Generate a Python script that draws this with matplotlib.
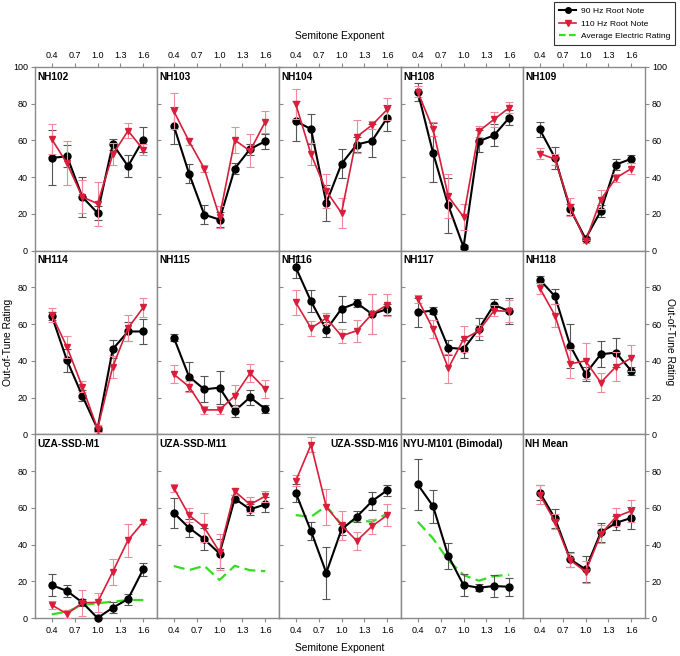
import matplotlib
matplotlib.use("Agg")
import matplotlib.pyplot as plt
from matplotlib.lines import Line2D

plt.rcParams['font.family'] = ['Liberation Sans', 'DejaVu Sans']

# semitone exponents tested and the tick labels shown
exponents = [0.4, 0.6, 0.8, 1.0, 1.2, 1.4, 1.6]
x_ticks = [0.4, 0.7, 1.0, 1.3, 1.6]

panels = ["NH102", "NH103", "NH104", "NH108", "NH109",
          "NH114", "NH115", "NH116", "NH117", "NH118",
          "UZA-SSD-M1", "UZA-SSD-M11", "UZA-SSD-M16", "NYU-M101 (Bimodal)", "NH Mean"]

# 90 Hz root note: mean out-of-tune rating and error
rating_90 = [
    [50.5, 51.4, 29.3, 20.5, 58.0, 46.0, 60.5],
    [68.0, 42.0, 19.6, 16.9, 44.7, 55.3, 59.6],
    [70.5, 66.2, 26.0, 47.3, 57.8, 59.8, 72.4],
    [86.5, 53.3, 24.7, 2.0, 59.6, 62.8, 72.4],
    [66.0, 50.5, 22.5, 6.5, 21.6, 46.9, 50.0],
    [64.5, 40.2, 21.0, 3.0, 46.4, 56.0, 56.0],
    [52.7, 31.4, 24.5, 25.4, 12.7, 20.2, 13.8],
    [90.9, 72.4, 56.9, 68.4, 71.5, 65.5, 68.2],
    [66.4, 67.4, 47.2, 46.4, 57.4, 70.5, 67.0],
    [84.2, 75.1, 48.2, 32.9, 43.6, 44.5, 34.5],
    [17.9, 14.7, 8.5, 0.0, 5.6, 10.3, 26.6],
    [57.2, 49.1, 42.9, 35.1, 65.0, 59.2, 61.8],
    [68.1, 47.3, 24.6, 48.2, 55.1, 63.6, 69.6],
    [72.7, 60.9, 33.9, 17.9, 16.5, 17.4, 17.0],
    [68.3, 54.2, 31.9, 26.5, 46.6, 51.8, 54.5],
]
err_90 = [
    [15, 6, 11, 4, 3, 6, 7],
    [10, 5, 5, 4, 3, 3, 4],
    [11, 8, 10, 8, 4, 9, 7],
    [5, 16, 15, 1, 6, 6, 4],
    [4, 6, 3, 1, 3, 3, 2],
    [2, 6, 3, 1, 5, 5, 7],
    [2, 8, 7, 9, 3, 4, 2],
    [6, 6, 4, 7, 2, 11, 3],
    [8, 2, 4, 5, 6, 3, 7],
    [2, 4, 12, 4, 7, 8, 2],
    [6, 3.5, 2, 0, 3, 3, 3.5],
    [8, 5, 6, 8, 2, 3, 4],
    [5, 5, 14, 3, 3, 5, 3],
    [14, 9, 7, 6, 2, 6, 5],
    [4, 5, 4, 7, 5, 4, 6],
]

# 110 Hz root note (not run for NYU-M101)
rating_110 = [
    [60.7, 47.5, 29.3, 25.6, 52.4, 65.3, 55.0],
    [76.0, 59.6, 44.7, 18.4, 60.2, 54.3, 70.2],
    [79.8, 52.5, 32.5, 20.5, 62.0, 68.4, 76.9],
    [86.5, 66.2, 29.6, 18.4, 65.0, 71.5, 77.8],
    [52.9, 49.8, 23.8, 5.0, 27.8, 39.6, 44.7],
    [65.0, 47.5, 26.0, 3.0, 36.9, 57.8, 69.1],
    [32.7, 26.0, 13.3, 13.3, 21.0, 33.3, 24.7],
    [71.8, 57.8, 63.3, 53.6, 56.4, 65.5, 70.5],
    [73.6, 57.4, 36.0, 51.8, 56.4, 67.3, 67.0],
    [79.6, 64.7, 38.4, 40.0, 28.2, 36.9, 41.5],
    [7.1, 2.2, 8.3, 8.5, 25.2, 42.4, 52.3],
    [70.8, 56.0, 49.3, 36.0, 69.0, 61.8, 66.3],
    [74.6, 94.4, 60.5, 50.5, 42.0, 50.0, 56.0],
    None,
    [67.2, 52.4, 31.5, 25.2, 45.6, 55.1, 58.3],
]
err_110 = [
    [8, 12, 9, 12, 6, 4, 3],
    [10, 2, 2, 6, 7, 9, 6],
    [8, 6, 9, 8, 9, 2, 6],
    [3, 4, 12, 7, 3, 4, 3],
    [3, 3, 5, 1, 5, 2, 3],
    [4, 6, 3, 2, 6, 7, 5],
    [5, 3, 2, 2, 6, 5, 5],
    [7, 4, 3, 4, 6, 11, 6],
    [2, 5, 8, 7, 3, 3, 6],
    [3, 6, 8, 10, 5, 8, 7],
    [2, 2, 7, 5, 7, 9, 1],
    [2, 4, 8, 10, 2, 4, 3],
    [3, 4, 10, 8, 5, 4, 6],
    None,
    [5, 4, 4, 6, 5, 5, 6],
]

# average electric rating (CI listeners only)
electric = [None] * 10 + [
    [2.0, 3.4, 7.1, 8.0, 8.9, 9.8, 9.8],
    [28.3, 26.1, 28.4, 20.7, 28.4, 26.0, 25.5],
    [56.0, 55.1, 61.0, 50.9, 53.3, 52.4, 56.9],
    [52.4, 43.3, 31.5, 23.4, 20.3, 22.8, 23.5],
    None,
]

black = '#000000'
red = '#d81e3a'
green = '#33dd22'
spine_col = '#8a8a8a'

fig = plt.figure(figsize=(6.8, 6.56), dpi=100)
gs = fig.add_gridspec(3, 5, left=35/680, right=645/680,
                      top=1 - 67/656, bottom=1 - 618/656,
                      wspace=0, hspace=0)

for i, name in enumerate(panels):
    r, c = divmod(i, 5)
    ax = fig.add_subplot(gs[r, c])

    if electric[i] is not None:
        ax.plot(exponents, electric[i], color=green, lw=1.6,
                dashes=(5, 2.5), zorder=2, clip_on=False)

    ax.errorbar(exponents, rating_90[i], yerr=err_90[i], fmt='none',
                ecolor='#555555', elinewidth=0.8, capsize=2.8,
                capthick=0.8, zorder=3)
    ax.plot(exponents, rating_90[i], color=black, lw=1.5, marker='o',
            ms=5, zorder=4, clip_on=False)

    if rating_110[i] is not None:
        ax.errorbar(exponents, rating_110[i], yerr=err_110[i], fmt='none',
                    ecolor='#f08a9a', elinewidth=0.8, capsize=2.8,
                    capthick=0.8, zorder=5)
        ax.plot(exponents, rating_110[i], color=red, lw=1.2, marker='v',
                ms=5, zorder=6, clip_on=False)

    ax.set_xlim(0.18, 1.78)
    ax.set_ylim(0, 100)

    for sp in ax.spines.values():
        sp.set_color(spine_col)
        sp.set_linewidth(1.0)

    # title inside the panel
    if name == "UZA-SSD-M16":
        ax.text(0.98, 0.975, name, transform=ax.transAxes, ha='right',
                va='top', fontsize=7.3, fontweight='bold')
    else:
        ax.text(0.02, 0.975, name, transform=ax.transAxes, ha='left',
                va='top', fontsize=7.3, fontweight='bold')

    # x ticks only on the outer rows
    ax.set_xticks(x_ticks)
    ax.set_xticklabels([f"{v:.1f}" for v in x_ticks])
    if r == 0:
        ax.tick_params(axis='x', top=True, bottom=False, labeltop=True,
                       labelbottom=False, direction='out', length=3,
                       color=spine_col, labelsize=6.5, pad=2)
    elif r == 2:
        ax.tick_params(axis='x', top=False, bottom=True, labelbottom=True,
                       direction='out', length=3, color=spine_col,
                       labelsize=6.5, pad=3)
    else:
        ax.tick_params(axis='x', top=False, bottom=False,
                       labelbottom=False)

    # y ticks
    if r == 0:
        ax.set_yticks([0, 20, 40, 60, 80, 100])
    else:
        ax.set_yticks([0, 20, 40, 60, 80])
    if c == 0:
        ax.tick_params(axis='y', left=True, labelleft=True, direction='out',
                       length=3, color=spine_col, labelsize=6.5, pad=2)
    elif c == 4:
        ax.tick_params(axis='y', left=False, labelleft=False, right=True,
                       labelright=True, direction='out', length=3,
                       color=spine_col, labelsize=6.5, pad=2)
    else:
        ax.tick_params(axis='y', left=True, labelleft=False, direction='in',
                       length=3, color=spine_col)

fig.text(340/680, 1 - 36/656, "Semitone Exponent", ha='center',
         va='center', fontsize=7.4)
fig.text(340/680, 1 - 648/656, "Semitone Exponent", ha='center',
         va='center', fontsize=7.4)
fig.text(8/680, 1 - 342/656, "Out-of-Tune Rating", ha='center',
         va='center', rotation=90, fontsize=7.4)
fig.text(670/680, 1 - 342/656, "Out-of-Tune Rating", ha='center',
         va='center', rotation=270, fontsize=7.4)

handles = [
    Line2D([], [], color=black, lw=1.5, marker='o', ms=4),
    Line2D([], [], color=red, lw=1.2, marker='v', ms=4),
    Line2D([], [], color=green, lw=1.6, dashes=(3, 1.5)),
]
labels = ["90 Hz Root Note", "110 Hz Root Note", "Average Electric Rating"]
leg = fig.legend(handles, labels, loc='upper right',
                 bbox_to_anchor=(675/680, 1 - 2/656), fontsize=6.1,
                 frameon=True, fancybox=False, edgecolor='black',
                 handlelength=2.0, handletextpad=0.5, borderpad=0.6,
                 labelspacing=0.55, borderaxespad=0)
leg.get_frame().set_linewidth(0.8)

fig.savefig("out.png", dpi=100)
